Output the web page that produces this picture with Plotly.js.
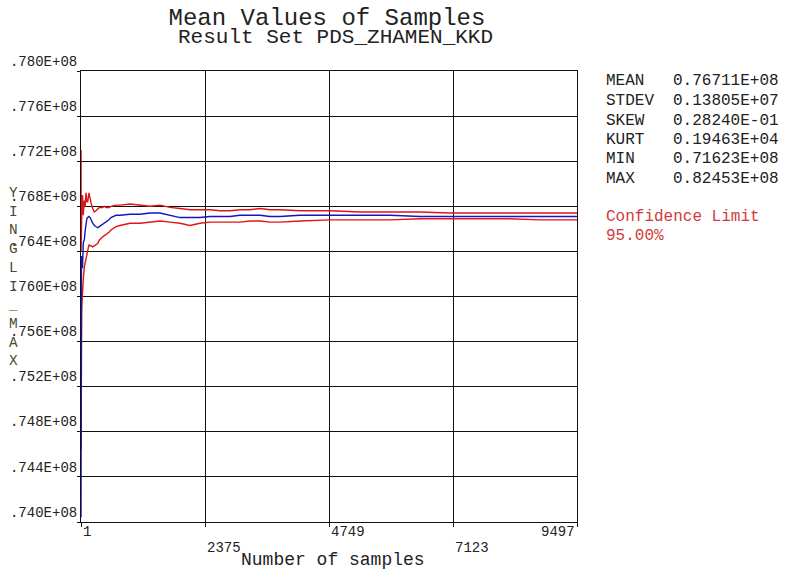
<!DOCTYPE html>
<html>
<head>
<meta charset="utf-8">
<script src="https://cdn.plot.ly/plotly-3.0.1.min.js"></script>
<style>html,body{margin:0;padding:0;background:#fff;}#chart{width:792px;height:587px;}</style>
</head>
<body>
<div id="chart"></div>
<script>
const samples = [1, 2, 3, 6, 10, 14, 20, 30, 45, 64, 80, 97, 113, 129, 154, 175, 192, 225, 256, 288, 321, 351, 384, 416, 447, 480, 537, 575, 671, 748, 939, 1131, 1322, 1514, 1705, 1896, 2088, 2279, 2471, 2662, 2854, 3045, 3237, 3428, 3620, 3811, 4194, 4768, 5343, 5917, 6491, 7065, 7640, 8214, 8788, 9497];
const meanValues = [0.7404, 0.7460, 0.7520, 0.7600, 0.7636, 0.7628, 0.7630, 0.7625, 0.7648, 0.7650, 0.7658, 0.7665, 0.7669, 0.7670, 0.7671, 0.7670, 0.7668, 0.7665, 0.7663, 0.7662, 0.7661, 0.7662, 0.7663, 0.7664, 0.7665, 0.7666, 0.7668, 0.7670, 0.7672, 0.7672, 0.7673, 0.7673, 0.7674, 0.7674, 0.7672, 0.7670, 0.7670, 0.7670, 0.7671, 0.7671, 0.7671, 0.7672, 0.7672, 0.7672, 0.7671, 0.7671, 0.7672, 0.7672, 0.7672, 0.7672, 0.7671, 0.7671, 0.7671, 0.7671, 0.7671, 0.7671];
const upperValues = [null, 0.7730, 0.7640, 0.7662, 0.7672, 0.7670, 0.7678, 0.7690, 0.7672, 0.7685, 0.7680, 0.7692, 0.7684, 0.7684, 0.7692, 0.7686, 0.7683, 0.7678, 0.7675, 0.7676, 0.7678, 0.7679, 0.7679, 0.7679, 0.7680, 0.7679, 0.7679, 0.7680, 0.7681, 0.7681, 0.7682, 0.7681, 0.7680, 0.7681, 0.7679, 0.7678, 0.7677, 0.7677, 0.7677, 0.7676, 0.7676, 0.7677, 0.7677, 0.7678, 0.7677, 0.7677, 0.7676, 0.7676, 0.7675, 0.7675, 0.7675, 0.7674, 0.7674, 0.7674, 0.7674, 0.7674];
const lowerValues = [null, 0.7464, 0.7510, 0.7545, 0.7570, 0.7585, 0.7595, 0.7606, 0.7615, 0.7626, 0.7630, 0.7632, 0.7637, 0.7641, 0.7646, 0.7645, 0.7645, 0.7644, 0.7645, 0.7646, 0.7647, 0.7650, 0.7652, 0.7653, 0.7654, 0.7655, 0.7657, 0.7659, 0.7662, 0.7663, 0.7665, 0.7665, 0.7666, 0.7667, 0.7666, 0.7665, 0.7663, 0.7665, 0.7666, 0.7666, 0.7666, 0.7666, 0.7667, 0.7667, 0.7666, 0.7666, 0.7667, 0.7668, 0.7668, 0.7668, 0.7669, 0.7669, 0.7669, 0.7669, 0.7668, 0.7668];

const yTickVals = [0.740, 0.744, 0.748, 0.752, 0.756, 0.760, 0.764, 0.768, 0.772, 0.776, 0.780];
const yTickText = ['.740E+08', '.744E+08', '.748E+08', '.752E+08', '.756E+08', '.760E+08', '.764E+08', '.768E+08', '.772E+08', '.776E+08', '.780E+08'];
const xTickVals = [1, 2375, 4749, 7123, 9497];
const xTickText = ['1', '2375', '4749', '7123', '9497'];

const statNames = ['MEAN', 'STDEV', 'SKEW', 'KURT', 'MIN', 'MAX'];
const statValues = ['0.76711E+08', '0.13805E+07', '0.28240E-01', '0.19463E+04', '0.71623E+08', '0.82453E+08'];

const MONO = 'Liberation Mono, Courier New, monospace';
const TXT = '#222222';

// plot geometry (px) used only for placing text annotations
const L = 81, R = 577, T = 71, B = 522;
const px2x = p => (p - L) / (R - L);
const py2y = p => (B - p) / (B - T);

const traces = [
  {x: samples, y: upperValues, type: 'scatter', mode: 'lines', line: {color: '#e01515', width: 1.4}, connectgaps: false, hoverinfo: 'skip'},
  {x: samples, y: lowerValues, type: 'scatter', mode: 'lines', line: {color: '#e01515', width: 1.4}, connectgaps: false, hoverinfo: 'skip'},
  {x: samples, y: meanValues, type: 'scatter', mode: 'lines', line: {color: '#1515c0', width: 1.4}, hoverinfo: 'skip'}
];

const annotations = [];
// x tick labels in two staggered rows
xTickVals.forEach((v, i) => {
  const row = (i % 2 === 0) ? 532 : 548;
  annotations.push({
    x: v, xref: 'x', y: py2y(row), yref: 'paper',
    text: xTickText[i], showarrow: false,
    xanchor: (i === xTickVals.length - 1) ? 'right' : 'left', yanchor: 'middle',
    font: {family: MONO, size: 14, color: TXT}
  });
});
// subtitle
annotations.push({
  x: px2x(335), xref: 'paper', y: py2y(38), yref: 'paper',
  text: 'Result Set PDS_ZHAMEN_KKD', showarrow: false, xanchor: 'center', yanchor: 'middle',
  font: {family: MONO, size: 21, color: TXT}
});
// x axis title
annotations.push({
  x: px2x(333), xref: 'paper', y: py2y(560), yref: 'paper',
  text: 'Number of samples', showarrow: false, xanchor: 'center', yanchor: 'middle',
  font: {family: MONO, size: 18, color: TXT}
});
// vertical y axis title, one letter per line
annotations.push({
  x: px2x(13), xref: 'paper', y: py2y(277), yref: 'paper',
  text: 'Y<br>I<br>N<br>G<br>L<br>I<br>_<br>M<br>A<br>X', showarrow: false,
  xanchor: 'center', yanchor: 'middle',
  font: {family: MONO, size: 14.4, color: '#4a4a30'}
});
// statistics block
const statRows = [80.5, 100.5, 120.5, 140, 159, 178.5];
statNames.forEach((n, i) => {
  annotations.push({x: px2x(604), xref: 'paper', y: py2y(statRows[i]), yref: 'paper', text: n, showarrow: false,
    xanchor: 'left', yanchor: 'middle', font: {family: MONO, size: 16, color: TXT}});
  annotations.push({x: px2x(671), xref: 'paper', y: py2y(statRows[i]), yref: 'paper', text: statValues[i], showarrow: false,
    xanchor: 'left', yanchor: 'middle', font: {family: MONO, size: 16, color: TXT}});
});
annotations.push({x: px2x(604), xref: 'paper', y: py2y(217), yref: 'paper', text: 'Confidence Limit', showarrow: false,
  xanchor: 'left', yanchor: 'middle', font: {family: MONO, size: 16, color: '#d23a3a'}});
annotations.push({x: px2x(604), xref: 'paper', y: py2y(236), yref: 'paper', text: '95.00%', showarrow: false,
  xanchor: 'left', yanchor: 'middle', font: {family: MONO, size: 16, color: '#d23a3a'}});

const layout = {
  width: 792, height: 587,
  margin: {l: L, r: 792 - R, t: T, b: 587 - B, pad: 0},
  paper_bgcolor: '#ffffff', plot_bgcolor: '#ffffff',
  showlegend: false,
  title: {text: 'Mean Values of Samples', x: 327 / 792, xanchor: 'center', xref: 'container',
          y: 1 - 17 / 587, yanchor: 'middle', yref: 'container',
          font: {family: MONO, size: 24, color: TXT}},
  xaxis: {
    range: [1, 9497], tickvals: xTickVals, ticktext: xTickText, showticklabels: false,
    ticks: 'outside', ticklen: 4, tickcolor: '#111', tickwidth: 1,
    showgrid: true, gridcolor: '#111', gridwidth: 1,
    showline: true, linecolor: '#111', linewidth: 1, mirror: true,
    zeroline: false, fixedrange: true
  },
  yaxis: {
    range: [0.740, 0.780], tickvals: yTickVals, ticktext: yTickText,
    ticks: 'outside', ticklen: 3, tickcolor: '#111', tickwidth: 1,
    ticklabelposition: 'outside top', ticklabelstandoff: 0,
    tickfont: {family: MONO, size: 14, color: TXT},
    showgrid: true, gridcolor: '#111', gridwidth: 1,
    showline: true, linecolor: '#111', linewidth: 1, mirror: true,
    zeroline: false, fixedrange: true
  },
  annotations: annotations
};

Plotly.newPlot('chart', traces, layout, {staticPlot: true, displayModeBar: false});
</script>
</body>
</html>
